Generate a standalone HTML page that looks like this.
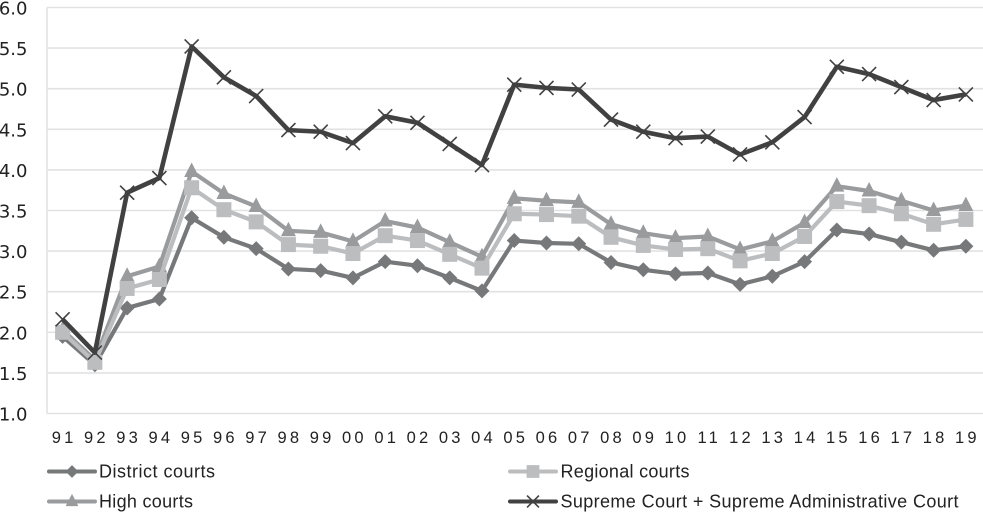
<!DOCTYPE html>
<html lang="en">
<head>
<meta charset="utf-8">
<title>Courts chart</title>
<style>
html,body{margin:0;padding:0;background:#fff;width:983px;height:512px;overflow:hidden}
svg{display:block}
text{font-family:"DejaVu Sans","Liberation Sans",sans-serif;fill:#222}
.leg{font-family:"Liberation Sans",sans-serif;font-size:18px}
.xt{font-family:"Liberation Sans",sans-serif;font-size:16.5px}
</style>
</head>
<body>
<svg id="chart" width="983" height="512" viewBox="0 0 983 512" xmlns="http://www.w3.org/2000/svg"></svg>
<script>
const years = ['91','92','93','94','95','96','97','98','99','00','01','02','03','04','05','06','07','08','09','10','11','12','13','14','15','16','17','18','19'];
const yTicks = ['1.0','1.5','2.0','2.5','3.0','3.5','4.0','4.5','5.0','5.5','6.0'];
const districtCourts = [1.95,1.6,2.3,2.41,3.41,3.17,3.03,2.78,2.76,2.67,2.87,2.82,2.67,2.51,3.13,3.1,3.09,2.86,2.77,2.72,2.73,2.59,2.69,2.87,3.26,3.21,3.11,3.01,3.06];
const regionalCourts = [2.0,1.63,2.54,2.65,3.78,3.51,3.36,3.08,3.06,2.97,3.19,3.13,2.96,2.79,3.46,3.45,3.43,3.17,3.07,3.02,3.03,2.88,2.97,3.18,3.61,3.56,3.46,3.33,3.39];
const highCourts = [2.03,1.66,2.69,2.81,3.98,3.71,3.55,3.25,3.23,3.12,3.37,3.29,3.11,2.93,3.65,3.62,3.6,3.33,3.22,3.16,3.18,3.02,3.12,3.35,3.8,3.74,3.62,3.5,3.56];
const supremeCourts = [2.16,1.75,3.72,3.9,5.52,5.14,4.91,4.49,4.47,4.33,4.66,4.58,4.32,4.06,5.05,5.01,4.99,4.62,4.47,4.39,4.41,4.19,4.34,4.65,5.27,5.18,5.02,4.86,4.93];

const svg = document.getElementById('chart');
const NS = 'http://www.w3.org/2000/svg';
function make(tag, attrs, parent) {
  const el = document.createElementNS(NS, tag);
  for (const k in attrs) el.setAttribute(k, attrs[k]);
  (parent || svg).appendChild(el);
  return el;
}
const xScale = i => 62.6 + i * 32.26;
const yScale = v => 413.5 - (v - 1) * 81.2;

function marker(kind, cx, cy, color, parent, k) {
  k = k || 1;
  if (kind === 'diamond') {
    const r = 7.5 * k;
    make('polygon', {points: `${cx},${cy-r} ${cx+r},${cy} ${cx},${cy+r} ${cx-r},${cy}`, fill: color}, parent);
  } else if (kind === 'square') {
    const r = 7.5 * k;
    make('rect', {x: cx-r, y: cy-r, width: 2*r, height: 2*r, fill: color}, parent);
  } else if (kind === 'triangle') {
    const r = 7.5 * k;
    make('polygon', {points: `${cx},${cy-9*k} ${cx+r},${cy+5.5*k} ${cx-r},${cy+5.5*k}`, fill: color}, parent);
  } else {
    const r = 7 * k;
    make('path', {d: `M${cx-r},${cy-r}L${cx+r},${cy+r}M${cx+r},${cy-r}L${cx-r},${cy+r}`, stroke: color, 'stroke-width': 1.6, fill: 'none'}, parent);
  }
}

const grid = make('g', {});


yTicks.forEach(t => {
  const v = parseFloat(t);
  const line = make('line', {x1: 47, x2: 983, y1: yScale(v), y2: yScale(v), stroke: '#e2e2e2', 'stroke-width': 1.6}, grid);
  
  
  const label = make('text', {x: 27.5, y: yScale(v) + 7, 'text-anchor': 'end', 'font-size': 18});
  label.textContent = t;
  
  
});
const yAxis = make('line', {x1: 47, x2: 47, y1: yScale(6), y2: yScale(1), stroke: '#e2e2e2', 'stroke-width': 1.6});



years.forEach((t, i) => {
  const label = make('text', {x: xScale(i) + 1.5, y: 443, 'text-anchor': 'middle', class: 'xt', 'letter-spacing': 3.2});
  label.textContent = t;
  
  
});

const series = [
  {name: 'district-courts', vals: districtCourts, color: '#767879', kind: 'diamond', width: 4.2},
  {name: 'high-courts', vals: highCourts, color: '#999b9d', kind: 'triangle', width: 4.2},
  {name: 'regional-courts', vals: regionalCourts, color: '#bcbdbf', kind: 'square', width: 4.2},
  {name: 'supreme-courts', vals: supremeCourts, color: '#414141', kind: 'x', width: 4.6}
];
series.forEach(s => {
  const g = make('g', {});
  
  
  const pts = s.vals.map((v, i) => xScale(i) + ',' + yScale(v)).join(' ');
  const line = make('polyline', {points: pts, fill: 'none', stroke: s.color, 'stroke-width': s.width, 'stroke-linejoin': 'round'}, g);
  
  
  s.vals.forEach((v, i) => marker(s.kind, xScale(i), yScale(v), s.color, g));
});

const legendItems = [
  {label: 'District courts', s: series[0], x1: 49, x2: 95, tx: 99, y: 471.5, len: 116},
  {label: 'Regional courts', s: series[2], x1: 510, x2: 556, tx: 560.5, y: 471.5, len: 129},
  {label: 'High courts', s: series[1], x1: 49, x2: 95, tx: 99, y: 501.5, len: 94},
  {label: 'Supreme Court + Supreme Administrative Court', s: series[3], x1: 510, x2: 556, tx: 560.5, y: 501.5, len: 398}
];
legendItems.forEach(it => {
  const g = make('g', {});
  
  
  make('line', {x1: it.x1, x2: it.x2, y1: it.y, y2: it.y, stroke: it.s.color, 'stroke-width': 4, 'stroke-linecap': 'round'}, g);
  marker(it.s.kind, (it.x1 + it.x2) / 2, it.y, it.s.color, g, 0.85);
  const t = make('text', {x: it.tx, y: it.y + 6, class: 'leg', textLength: it.len, lengthAdjust: 'spacing'}, g);
  t.textContent = it.label;
});
</script>
</body>
</html>
